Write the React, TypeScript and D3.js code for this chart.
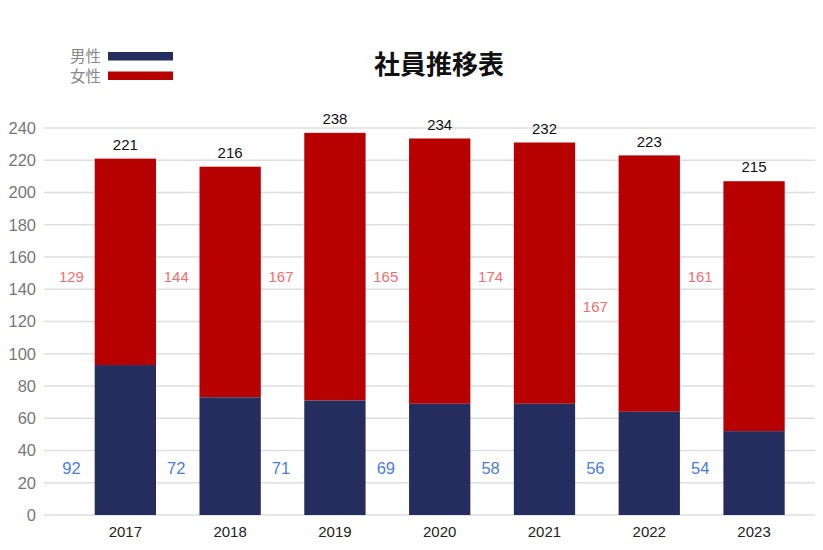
import React from "react";
import * as d3 from "d3";

const years = ["2017", "2018", "2019", "2020", "2021", "2022", "2023"];
// bar heights as drawn
const maleBar = [93, 73, 71, 69, 69, 64, 52];
const totalBar = [221, 216, 237, 233.5, 231, 223, 207];
// printed labels
const maleLabels = [92, 72, 71, 69, 58, 56, 54];
const femaleLabels = [129, 144, 167, 165, 174, 167, 161];
const totalLabels = [221, 216, 238, 234, 232, 223, 215];
// value level at which the side labels sit
const femaleLabelLevel = [148, 148, 148, 148, 148, 129, 148];
const maleLabelLevel = [29, 29, 29, 29, 29, 29, 29];
const yTicks = [0, 20, 40, 60, 80, 100, 120, 140, 160, 180, 200, 220, 240];

const W = 823;
const H = 550;
const NAVY = "#252d5e";
const RED = "#b70000";
const FONT = "'Liberation Sans', 'Noto Sans CJK JP', sans-serif";
const CJK = "'Noto Sans CJK JP', sans-serif";

export default function App() {
  const x = d3.scaleBand<string>().domain(years).range([72.7, 806.7]).paddingInner(0.415).paddingOuter(0.21);
  const y = d3.scaleLinear().domain([0, 240]).range([515, 128]);
  const bw = x.bandwidth();
  const step = x.step();

  return (
    <svg width={W} height={H} style={{ position: "absolute", left: 0, top: 0, background: "#fff" }}>
      {yTicks.map((t) => (
        <g key={t}>
          <line x1={44} x2={815} y1={y(t)} y2={y(t)} stroke="#dedede" strokeWidth={1.5} />
          <text x={36} y={y(t)} dy="0.35em" textAnchor="end" fontSize={16.5} fill="#777" fontFamily={FONT}>
            {t}
          </text>
        </g>
      ))}
      {years.map((yr, i) => {
        const x0 = x(yr) as number;
        const lx = x0 + bw / 2 - step / 2 - 1.5;
        return (
          <g key={yr}>
            <rect x={x0} y={y(totalBar[i])} width={bw} height={y(maleBar[i]) - y(totalBar[i])} fill={RED} />
            <rect x={x0} y={y(maleBar[i])} width={bw} height={y(0) - y(maleBar[i])} fill={NAVY} />
            <text x={x0 + bw / 2} y={y(totalBar[i]) - 14} dy="0.35em" textAnchor="middle" fontSize={15} fill="#111" fontFamily={FONT}>
              {totalLabels[i]}
            </text>
            <text x={lx} y={y(femaleLabelLevel[i])} dy="0.35em" textAnchor="middle" fontSize={15} fill="#f07070" fontFamily={FONT}>
              {femaleLabels[i]}
            </text>
            <text x={lx} y={y(maleLabelLevel[i])} dy="0.35em" textAnchor="middle" fontSize={16.5} fill="#4a7ddb" fontFamily={FONT}>
              {maleLabels[i]}
            </text>
            <text x={x0 + bw / 2} y={532} dy="0.35em" textAnchor="middle" fontSize={15} fill="#222" fontFamily={FONT}>
              {yr}
            </text>
          </g>
        );
      })}
      <text x={439} y={65} dy="0.35em" textAnchor="middle" fontSize={26} fontWeight="bold" fill="#111" fontFamily={CJK}>
        社員推移表
      </text>
      <text x={101} y={57} dy="0.35em" textAnchor="end" fontSize={15.5} fill="#888" fontFamily={CJK}>男性</text>
      <rect x={108} y={52} width={65} height={8.5} fill={NAVY} />
      <text x={101} y={77} dy="0.35em" textAnchor="end" fontSize={15.5} fill="#888" fontFamily={CJK}>女性</text>
      <rect x={108} y={71.5} width={65} height={8.5} fill={RED} />
    </svg>
  );
}
